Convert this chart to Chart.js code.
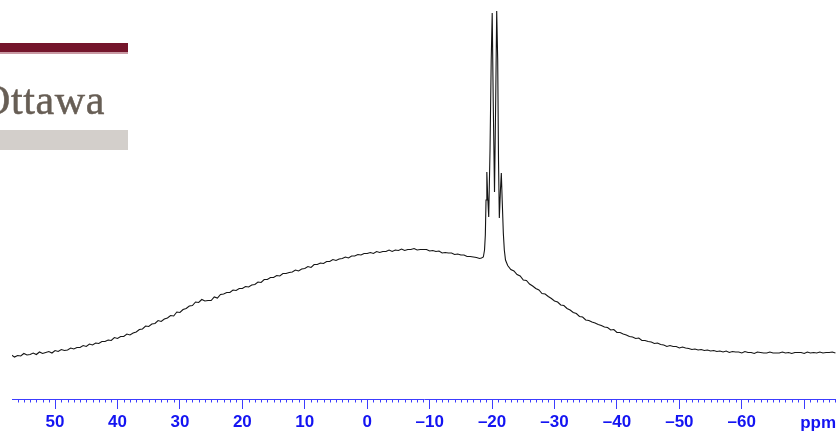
<!DOCTYPE html>
<html>
<head>
<meta charset="utf-8">
<script src="https://cdn.jsdelivr.net/npm/chart.js@4/dist/chart.umd.min.js"></script>
<style>
  html, body { margin: 0; padding: 0; background: #ffffff; }
  #wrap { position: relative; width: 836px; height: 432px; overflow: hidden; background: #fff; }
  #c { position: absolute; left: 0; top: 0; }
  .logo-red { position: absolute; left: 0; top: 43px; width: 128px; height: 9px; background: #74152b; }
  .logo-pink { position: absolute; left: 0; top: 52px; width: 128px; height: 2px; background: #c99aa4; }
  .logo-text { position: absolute; left: -20px; top: 79px; font-family: "Liberation Serif", "DejaVu Serif", serif; font-size: 42px; line-height: 1; letter-spacing: 0.6px; color: #675e55; -webkit-text-stroke: 0.5px #675e55; white-space: nowrap; }
  .logo-gray { position: absolute; left: 0; top: 130px; width: 128px; height: 20px; background: #d3cfcb; }
</style>
</head>
<body>
<div id="wrap">
  <canvas id="c" width="836" height="432"></canvas>
  <div class="logo-red"></div>
  <div class="logo-pink"></div>
  <div class="logo-text">Ottawa</div>
  <div class="logo-gray"></div>
</div>
<script>
// ---- data (intensity in arbitrary units) ----
// broad hump, left side: ppm from 57 down to -18 in 0.5 ppm steps
const leftStart = 57, leftStep = -0.5;
const leftIntensity = [
  44, 42, 43.5, 43, 45.5, 44, 44.5, 46, 44.5, 47,
  45.5, 46.5, 47.5, 46, 48.5, 47.5, 49.5, 48.5, 49, 51,
  50, 51.5, 51.5, 53.5, 52.5, 55, 54, 56, 55.5, 57.5,
  57.5, 59, 58.5, 61.5, 60.5, 62.5, 62.5, 65, 64, 66,
  67, 69.5, 70, 73, 72.5, 75, 75.5, 78.5, 77.5, 80,
  81, 83.5, 83, 87, 86.5, 89.5, 90.5, 93, 93.5, 97,
  96.5, 99.5, 98, 98.5, 98.5, 102, 101, 104.5, 105, 106.5,
  106.5, 109, 108.5, 110.5, 110.5, 112.5, 112, 114, 114.5, 117,
  116.5, 119.5, 119.5, 121.5, 121.5, 123.5, 123, 125.5, 125.5, 126.5,
  127, 129, 128, 130, 130.5, 132.5, 131.5, 134.5, 134.5, 136,
  135.5, 137.5, 137.5, 139.5, 138.5, 140, 140.5, 142, 141, 143,
  143, 144.5, 144, 145.5, 145.5, 146.5, 145.5, 147.5, 146.5, 147.5,
  147.5, 149, 147.5, 149, 148.5, 150, 148.5, 149.5, 149.5, 150.5,
  149, 149.5, 149.5, 149.5, 148, 148.5, 147.5, 148, 146, 146.5,
  146, 146, 144.5, 145, 144, 144, 142.5, 142.5, 142, 141.5,
  140.5
];
// the narrow multiplet near -20 ppm
const peakPpm = [
  -18.3, -18.6, -18.79, -18.92, -19.03, -19.16, -19.29, -19.46, -19.67, -19.86,
  -20.02, -20.18, -20.39, -20.58, -20.74, -20.90, -21.03, -21.16, -21.34, -21.48,
  -21.62, -21.80, -21.96, -22.15
];
const peakIntensity = [
  141, 142, 149, 164, 199, 227, 204, 182, 249, 339,
  386, 299, 207, 299, 388, 339, 239, 181, 209, 226,
  199, 166, 149, 139
];
// broad hump, right side: ppm from -22.5 down to -75 in 0.5 ppm steps
const rightStart = -22.5, rightStep = -0.5;
const rightIntensity = [
  133.5, 129.5, 128, 124.5, 123, 119, 118.5, 115, 113, 110.5,
  109, 105.5, 105, 102.5, 100.5, 98, 97, 94, 93.5, 90.5,
  89, 86.5, 85.5, 82.5, 82, 79, 78.5, 77, 76, 74.5,
  73.5, 72, 71.5, 69, 69.5, 66.5, 66.5, 65, 64, 62.5,
  62, 60.5, 61, 58.5, 58.5, 57.5, 57, 55.5, 56, 54.5,
  54, 52.5, 53.5, 52.5, 52.5, 51, 52, 51, 50.5, 49.5,
  50, 49, 49.5, 48.5, 49, 48, 48.5, 47.5, 48, 47,
  48, 46.5, 47.5, 47, 47, 46, 47.5, 46.5, 46.5, 45.5,
  47, 46.5, 46, 46, 47, 46, 46, 46, 47, 46,
  46.5, 45.5, 46.5, 46.5, 46.5, 45.5, 47, 46, 46.5, 46,
  47, 46, 46.5, 46.5, 47, 46
];
// axis
const tickValues = [50, 40, 30, 20, 10, 0, -10, -20, -30, -40, -50, -60, -70];
const axisMax = 56.9, axisMin = -75.09;
const unitLabel = 'ppm';

// ---- build the series ----
const points = [];
leftIntensity.forEach((v, i) => points.push({ x: leftStart + leftStep * i, y: v }));
peakPpm.forEach((p, i) => points.push({ x: p, y: peakIntensity[i] }));
rightIntensity.forEach((v, i) => points.push({ x: rightStart + rightStep * i, y: v }));

const BLUE_TEXT = '#1414f2';
const BLUE_LINE = '#3c3cff';

const minorTicks = {
  id: 'minorTicks',
  afterDraw(chart) {
    const s = chart.scales.x;
    const ctx = chart.ctx;
    ctx.save();
    ctx.strokeStyle = BLUE_LINE;
    ctx.lineWidth = 1;
    ctx.beginPath();
    for (let v = Math.ceil(axisMin); v <= Math.floor(axisMax); v++) {
      if (v % 10 === 0) continue;
      const px = Math.round(s.getPixelForValue(v)) + 0.5;
      ctx.moveTo(px, s.top);
      ctx.lineTo(px, s.top + 3.5);
    }
    ctx.stroke();
    ctx.fillStyle = BLUE_TEXT;
    ctx.font = 'bold 17px "Liberation Sans", Arial, sans-serif';
    ctx.textAlign = 'left';
    ctx.textBaseline = 'middle';
    ctx.fillText(unitLabel, s.getPixelForValue(-70) - 4, 423);
    ctx.restore();
  }
};

new Chart(document.getElementById('c'), {
  type: 'line',
  data: {
    datasets: [{
      data: points,
      borderColor: '#141414',
      borderWidth: 1.1,
      pointRadius: 0,
      tension: 0,
      fill: false
    }]
  },
  options: {
    responsive: false,
    animation: false,
    devicePixelRatio: 1,
    parsing: true,
    layout: { padding: { left: 12, right: 0, top: 0, bottom: 0 } },
    plugins: { legend: { display: false }, tooltip: { enabled: false } },
    scales: {
      x: {
        type: 'linear',
        reverse: true,
        min: axisMin,
        max: axisMax,
        afterBuildTicks: (s) => { s.ticks = tickValues.map(v => ({ value: v })); },
        afterFit: (s) => { s.height = 33; },
        ticks: {
          autoSkip: false,
          maxRotation: 0,
          padding: 3,
          color: BLUE_TEXT,
          font: { family: '"Liberation Sans", Arial, sans-serif', size: 17, weight: 'bold' },
          callback: (v) => (v === -70 ? '' : (v < 0 ? '\u2013' + Math.abs(v) : String(v)))
        },
        grid: { display: true, drawOnChartArea: false, drawTicks: true, tickLength: 10, color: BLUE_LINE, lineWidth: 1 },
        border: { display: true, color: BLUE_LINE, width: 1 }
      },
      y: {
        display: false,
        min: 0,
        max: 399
      }
    }
  },
  plugins: [minorTicks]
});
</script>
</body>
</html>
